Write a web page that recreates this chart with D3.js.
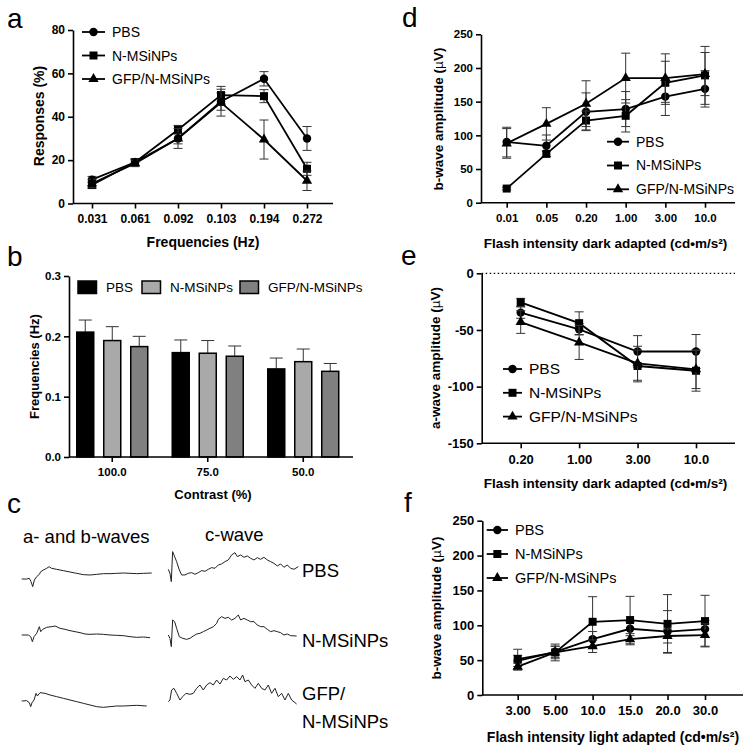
<!DOCTYPE html>
<html lang="en">
<head>
<meta charset="UTF-8">
<title>ERG panels</title>
<script src="https://d3js.org/d3.v7.min.js"></script>
<style>
  body { margin: 0; background: #fff; }
  svg { display: block; font-family: "Liberation Sans", Arial, sans-serif; }
</style>
</head>
<body>
<svg id="fig" width="751" height="749"></svg>
<script>
const FONT = "Liberation Sans, Arial, sans-serif";
const groups = ["PBS", "N-MSiNPs", "GFP/N-MSiNPs"];

// a: responses vs frequency
const freqLabels = ["0.031", "0.061", "0.092", "0.103", "0.194", "0.272"];
const respPBS = [11, 19, 30, 47, 57.5, 30];
const respPBSErr = [1.5, 1.5, 2.5, 4, 3.3, 5.5];
const respN = [8.5, 19, 34, 50, 49.5, 16];
const respNErr = [1.5, 1.5, 2, 4, 3, 3];
const respGFP = [9.2, 18.5, 30, 46.5, 29.5, 10.5];
const respGFPErr = [2, 1.5, 4.6, 6.2, 9, 4.5];

// b: frequency vs contrast
const contrastLabels = ["100.0", "75.0", "50.0"];
const freqPBS = [0.207, 0.173, 0.146];
const freqPBSErr = [0.020, 0.021, 0.018];
const freqN = [0.193, 0.172, 0.158];
const freqNErr = [0.023, 0.021, 0.021];
const freqGFP = [0.183, 0.167, 0.142];
const freqGFPErr = [0.017, 0.017, 0.013];

// d: b-wave, dark adapted
const darkLabels = ["0.01", "0.05", "0.20", "1.00", "3.00", "10.0"];
const bDarkPBS = [90, 84.5, 135, 139, 157.5, 169];
const bDarkPBSErr = [22, 16, 28, 26, 28, 27];
const bDarkN = [21, 72.5, 122, 129, 178, 189];
const bDarkNErr = [2, 4, 14, 24, 32, 43];
const bDarkGFP = [88, 117, 147, 185, 185, 191];
const bDarkGFPErr = [22, 24, 34, 37, 36, 32];

// e: a-wave, dark adapted
const aDarkLabels = ["0.20", "1.00", "3.00", "10.0"];
const aDarkPBS = [-34.7, -49.4, -69, -69];
const aDarkPBSErr = [5, 5, 14, 15];
const aDarkN = [-25.6, -44, -81.8, -86];
const aDarkNErr = [3.5, 10, 14, 18];
const aDarkGFP = [-43, -61, -79.4, -84.7];
const aDarkGFPErr = [10, 15, 15, 17];

// f: b-wave, light adapted
const lightLabels = ["3.00", "5.00", "10.0", "15.0", "20.0", "30.0"];
const bLightPBS = [49, 62, 80, 95, 91, 94.5];
const bLightPBSErr = [8, 8, 11, 10, 30, 12];
const bLightN = [51.6, 61, 105, 107.5, 102, 106];
const bLightNErr = [14, 12, 36, 34, 42, 37];
const bLightGFP = [40.6, 61, 70, 80, 84.6, 86];
const bLightGFPErr = [5, 9, 9, 8, 10, 16];

// c: example traces, [time, amplitude]
const abPBS = [[0,0],[15,0],[23,2],[28,-8],[33,-23],[38,-3],[45,7],[53,14],[57,22],[65,27],[75,32],[82,37],[90,32],[105,29],[125,25],[145,21],[165,17],[185,13],[205,12],[225,14],[245,16],[265,16],[285,17],[305,18],[325,17],[345,16],[365,17],[390,18]];
const abN = [[0,0],[20,0],[27,-5],[32,-20],[37,-5],[45,5],[53,25],[57,10],[63,17],[75,23],[90,25],[100,27],[115,20],[130,17],[145,13],[160,10],[175,7],[190,3],[205,2],[225,3],[245,2],[265,0],[285,-1],[305,-2],[325,-5],[345,-7],[365,-6],[385,-8]];
const abGFP = [[0,0],[15,1],[23,-5],[27,-17],[31,-5],[37,3],[43,23],[47,15],[55,25],[70,23],[85,18],[105,13],[125,8],[145,3],[165,-2],[185,-7],[205,-12],[225,-17],[245,-19],[265,-17],[285,-15],[305,-15],[325,-14],[345,-13],[375,-15]];
const cwPBS = [[0,-3],[5,-15],[9,-40],[13,50],[17,40],[25,20],[33,-5],[40,-20],[50,-20],[60,-15],[70,-13],[80,-18],[90,-13],[100,-7],[110,-9],[120,-3],[130,2],[140,0],[150,10],[160,13],[170,20],[180,25],[190,40],[200,47],[207,35],[217,40],[227,33],[237,37],[247,30],[257,25],[267,32],[277,27],[287,33],[297,25],[307,20],[317,15],[327,7],[337,13],[347,3],[357,10],[367,0],[377,-3],[390,5]];
const cwN = [[0,0],[5,-10],[9,-35],[13,45],[19,40],[25,20],[33,-5],[43,-10],[55,-13],[65,-10],[75,-3],[85,3],[95,5],[105,10],[115,15],[125,20],[135,25],[145,35],[150,47],[160,55],[170,50],[180,53],[190,45],[200,50],[210,60],[217,45],[227,50],[237,45],[247,40],[257,40],[267,30],[277,25],[287,25],[297,17],[307,10],[317,13],[327,10],[337,7],[347,0],[357,3],[367,-2],[385,-3]];
const cwGFP = [[0,-5],[5,0],[10,30],[17,35],[25,20],[35,0],[43,10],[53,20],[65,17],[75,20],[85,35],[95,45],[105,30],[115,45],[125,52],[135,45],[145,60],[155,48],[165,65],[175,60],[185,72],[195,62],[205,70],[215,60],[223,75],[230,55],[240,60],[250,45],[260,35],[270,50],[280,35],[290,30],[300,45],[310,20],[320,35],[330,10],[340,20],[350,0],[360,20],[370,0],[385,-12]];

const svg = d3.select("#fig");

const symbols = [d3.symbolCircle, d3.symbolSquare, d3.symbolTriangle];
const symSizes = [56, 64, 46];

function styleAxis(sel, fs) {
  sel.attr("font-family", FONT).attr("font-size", fs).attr("font-weight", "bold");
  sel.selectAll("path, line").attr("stroke", "#000").attr("stroke-width", 1.6);
  sel.selectAll("text").attr("fill", "#000");
}

function linePanel(o) {
  const x = d3.scalePoint().domain(o.labels).range(o.xr);
  const y = d3.scaleLinear().domain(o.yDom).range(o.yR);
  const g = svg.append("g");

  if (o.zeroLine) {
    g.append("line")
      .attr("x1", o.axisX[0]).attr("x2", o.axisX[1])
      .attr("y1", y(0)).attr("y2", y(0))
      .attr("stroke", "#000").attr("stroke-width", 1.2)
      .attr("stroke-dasharray", "1.5,2.5");
  }

  const ya = g.append("g")
    .attr("transform", `translate(${o.axisX[0]},0)`)
    .call(d3.axisLeft(y).tickValues(o.ticks).tickSize(5).tickSizeOuter(0)
      .tickPadding(3).tickFormat(d => String(d)));
  styleAxis(ya, o.fs);

  const xa = g.append("g")
    .attr("transform", `translate(0,${o.yR[0]})`)
    .call(d3.axisBottom(x).tickSize(5).tickSizeOuter(0).tickPadding(6));
  xa.select(".domain").remove();
  xa.append("line").attr("x1", o.axisX[0]).attr("x2", o.axisX[1]);
  styleAxis(xa, o.fs);

  o.series.forEach((s, k) => {
    const pts = o.labels.map((l, i) => ({ l, v: s.vals[i], e: s.errs[i] }));
    const eb = g.append("g").attr("stroke", "#333").attr("stroke-width", 1);
    pts.forEach(p => {
      const cx = x(p.l);
      eb.append("line").attr("x1", cx).attr("x2", cx)
        .attr("y1", y(p.v - p.e)).attr("y2", y(p.v + p.e));
      [p.v - p.e, p.v + p.e].forEach(v => {
        eb.append("line").attr("x1", cx - 4.5).attr("x2", cx + 4.5)
          .attr("y1", y(v)).attr("y2", y(v));
      });
    });
    g.append("path").datum(pts)
      .attr("fill", "none").attr("stroke", "#000").attr("stroke-width", 1.8)
      .attr("d", d3.line().x(p => x(p.l)).y(p => y(p.v)));
    g.selectAll(null).data(pts).join("path")
      .attr("transform", p => `translate(${x(p.l)},${y(p.v)})`)
      .attr("d", d3.symbol(symbols[k], symSizes[k]))
      .attr("fill", "#000");
  });

  // legend
  const lg = g.append("g").attr("transform", `translate(${o.leg[0]},${o.leg[1]})`);
  groups.forEach((name, k) => {
    const yy = k * o.leg[2];
    lg.append("line").attr("x1", 0).attr("x2", o.leg[3]).attr("y1", yy).attr("y2", yy)
      .attr("stroke", "#000").attr("stroke-width", 1.8);
    lg.append("path").attr("transform", `translate(${o.leg[3] / 2},${yy})`)
      .attr("d", d3.symbol(symbols[k], symSizes[k])).attr("fill", "#000");
    lg.append("text").attr("x", o.leg[3] + 7).attr("y", yy + 5)
      .attr("font-size", o.legFs).text(name);
  });

  // titles
  const yt = g.append("text")
    .attr("transform", `translate(${o.yTitle[0]},${o.yTitle[1]}) rotate(-90)`)
    .attr("text-anchor", "middle").attr("font-weight", "bold").attr("font-size", o.titleFs);
  if (o.yTitleText.includes("µ")) {
    const parts = o.yTitleText.split("µ");
    yt.append("tspan").text(parts[0]);
    yt.append("tspan").attr("font-weight", "normal").text("µ");
    yt.append("tspan").text(parts[1]);
  } else {
    yt.text(o.yTitleText);
  }
  svg.append("text").attr("x", o.xTitle[0]).attr("y", o.xTitle[1])
    .attr("text-anchor", "middle").attr("font-weight", "bold")
    .attr("font-size", o.xTitleFs || o.titleFs).text(o.xTitleText);
}

// panel a
linePanel({
  labels: freqLabels, xr: [92, 307], axisX: [73, 333],
  yDom: [0, 80], yR: [203.5, 30], ticks: [0, 20, 40, 60, 80], fs: 12,
  series: [
    { vals: respPBS, errs: respPBSErr },
    { vals: respN, errs: respNErr },
    { vals: respGFP, errs: respGFPErr }
  ],
  leg: [82, 32, 23.5, 23], legFs: 14,
  yTitle: [43.5, 116], yTitleText: "Responses (%)", titleFs: 14,
  xTitle: [203, 247], xTitleText: "Frequencies (Hz)"
});

// panel d
linePanel({
  labels: darkLabels, xr: [506.7, 705], axisX: [481, 735],
  yDom: [0, 250], yR: [202.7, 34.3], ticks: [0, 50, 100, 150, 200, 250], fs: 11.5,
  series: [
    { vals: bDarkPBS, errs: bDarkPBSErr },
    { vals: bDarkN, errs: bDarkNErr },
    { vals: bDarkGFP, errs: bDarkGFPErr }
  ],
  leg: [607, 141.7, 23.8, 22], legFs: 14,
  yTitle: [442.5, 119], yTitleText: "b-wave amplitude (µV)", titleFs: 13.5,
  xTitle: [605.5, 247.5], xTitleText: "Flash intensity dark adapted (cd•m/s²)"
});

// panel e
linePanel({
  labels: aDarkLabels, xr: [520.7, 696], axisX: [481.7, 735],
  yDom: [-150, 0], yR: [443.3, 273.3], ticks: [-150, -100, -50, 0], fs: 13,
  zeroLine: true,
  series: [
    { vals: aDarkPBS, errs: aDarkPBSErr },
    { vals: aDarkN, errs: aDarkNErr },
    { vals: aDarkGFP, errs: aDarkGFPErr }
  ],
  leg: [503, 369, 23.8, 19], legFs: 15.5,
  yTitle: [440, 358], yTitleText: "a-wave amplitude (µV)", titleFs: 13.5,
  xTitle: [605.5, 487.5], xTitleText: "Flash intensity dark adapted (cd•m/s²)"
});

// panel f
linePanel({
  labels: lightLabels, xr: [517.7, 705], axisX: [482.3, 743],
  yDom: [0, 250], yR: [695, 520.7], ticks: [0, 50, 100, 150, 200, 250], fs: 13,
  series: [
    { vals: bLightPBS, errs: bLightPBSErr },
    { vals: bLightN, errs: bLightNErr },
    { vals: bLightGFP, errs: bLightGFPErr }
  ],
  leg: [486.7, 530, 24, 21.3], legFs: 14.5,
  yTitle: [441, 608], yTitleText: "b-wave amplitude (µV)", titleFs: 13.5,
  xTitle: [613, 741.5], xTitleText: "Flash intensity light adapted (cd•m/s²)", xTitleFs: 14
});

// panel b: grouped bars
(function () {
  const barVals = [freqPBS, freqN, freqGFP];
  const barErrs = [freqPBSErr, freqNErr, freqGFPErr];
  const barFill = ["#000", "#a9a9a9", "#808080"];
  const x0 = d3.scaleBand().domain(contrastLabels).range([64.5, 351]);
  const x1 = d3.scaleBand().domain(groups)
    .range([x0.bandwidth() / 2 - 35.5, x0.bandwidth() / 2 + 35.5]).paddingInner(0.37);
  const y = d3.scaleLinear().domain([0, 0.3]).range([457, 276]);
  const g = svg.append("g");

  contrastLabels.forEach((c, i) => {
    groups.forEach((s, k) => {
      const bx = x0(c) + x1(s);
      const v = barVals[k][i], e = barErrs[k][i];
      const cx = bx + x1.bandwidth() / 2;
      g.append("line").attr("x1", cx).attr("x2", cx).attr("y1", y(v)).attr("y2", y(v + e))
        .attr("stroke", "#333").attr("stroke-width", 1);
      g.append("line").attr("x1", cx - 6.5).attr("x2", cx + 6.5).attr("y1", y(v + e)).attr("y2", y(v + e))
        .attr("stroke", "#333").attr("stroke-width", 1);
      g.append("rect").attr("x", bx).attr("y", y(v))
        .attr("width", x1.bandwidth()).attr("height", y(0) - y(v))
        .attr("fill", barFill[k]).attr("stroke", "#000").attr("stroke-width", 1.5);
    });
  });

  const ya = g.append("g").attr("transform", "translate(69,0)")
    .call(d3.axisLeft(y).tickValues([0, 0.1, 0.2, 0.3]).tickSize(5).tickSizeOuter(0)
      .tickPadding(3).tickFormat(d3.format(".1f")));
  styleAxis(ya, 11.5);
  const xa = g.append("g").attr("transform", "translate(0,457)")
    .call(d3.axisBottom(x0).tickSize(5).tickSizeOuter(0).tickPadding(6));
  xa.select(".domain").remove();
  xa.append("line").attr("x1", 69).attr("x2", 353);
  styleAxis(xa, 11.5);

  const legX = [78, 142, 240];
  groups.forEach((s, k) => {
    g.append("rect").attr("x", legX[k]).attr("y", 281).attr("width", 18.5).attr("height", 12.5)
      .attr("fill", barFill[k]).attr("stroke", "#000").attr("stroke-width", 1.5);
    g.append("text").attr("x", legX[k] + 28).attr("y", 292)
      .attr("font-size", 13.5).text(s);
  });

  g.append("text").attr("transform", "translate(38.5,366.5) rotate(-90)")
    .attr("text-anchor", "middle").attr("font-weight", "bold").attr("font-size", 13)
    .text("Frequencies (Hz)");
  g.append("text").attr("x", 213).attr("y", 498.5)
    .attr("text-anchor", "middle").attr("font-weight", "bold").attr("font-size", 13)
    .text("Contrast (%)");
})();

// panel c: traces
(function () {
  const traces = [
    { d: abPBS, x0: 21.7, base: 579 },
    { d: abN, x0: 21.7, base: 635 },
    { d: abGFP, x0: 21.7, base: 701 },
    { d: cwPBS, x0: 168.3, base: 568.3 },
    { d: cwN, x0: 168.3, base: 635 },
    { d: cwGFP, x0: 168.3, base: 700 }
  ];
  traces.forEach(t => {
    const x = d3.scaleLinear().domain([0, 390]).range([t.x0, t.x0 + 130]);
    const y = d3.scaleLinear().domain([-60, 60]).range([t.base + 20, t.base - 20]);
    svg.append("path").datum(t.d)
      .attr("fill", "none").attr("stroke", "#222").attr("stroke-width", 1)
      .attr("d", d3.line().x(p => x(p[0])).y(p => y(p[1])));
  });
  const tfs = 18.5;
  svg.append("text").attr("x", 23).attr("y", 543).attr("font-size", tfs).text("a- and b-waves");
  svg.append("text").attr("x", 205).attr("y", 541).attr("font-size", tfs).text("c-wave");
  svg.append("text").attr("x", 302).attr("y", 577).attr("font-size", tfs).text("PBS");
  svg.append("text").attr("x", 302).attr("y", 647).attr("font-size", tfs).text("N-MSiNPs");
  svg.append("text").attr("x", 302).attr("y", 700).attr("font-size", tfs).text("GFP/");
  svg.append("text").attr("x", 302).attr("y", 728).attr("font-size", tfs).text("N-MSiNPs");
})();

// panel letters
[["a", 7, 28], ["b", 7, 266], ["c", 7, 513], ["d", 402, 27], ["e", 401, 265], ["f", 404, 512]]
  .forEach(([t, x, y]) => {
    svg.append("text").attr("x", x).attr("y", y).attr("font-size", 28).text(t);
  });
</script>
</body>
</html>
